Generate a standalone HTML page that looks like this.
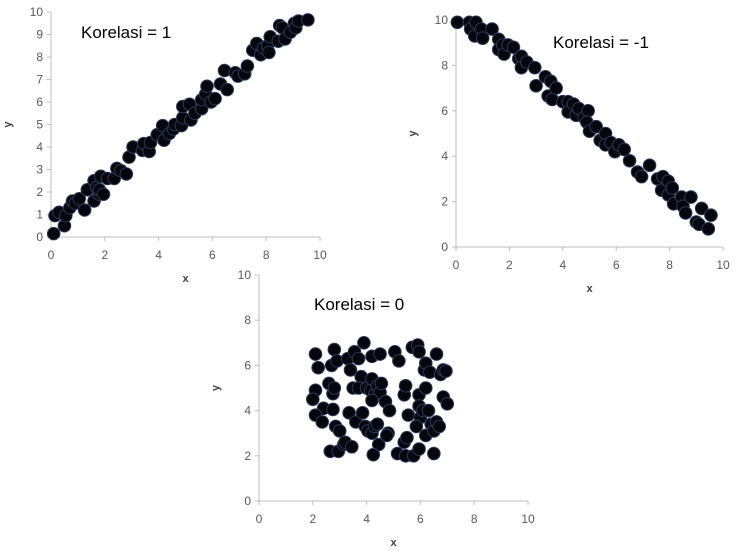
<!DOCTYPE html>
<html><head><meta charset="utf-8"><style>
body{margin:0;background:#fff;}
svg{display:block;font-family:"Liberation Sans",sans-serif;}
.tick{fill:#595959;font-size:12px;}
.ttl{fill:#000;font-size:17px;}
.ax{fill:#404040;font-size:11px;font-weight:bold;}
</style></head><body>
<svg id="chart" width="735" height="550" viewBox="0 0 735 550"></svg>
<script>
const xTicks=[0,2,4,6,8,10];
const yTicks1=[0,1,2,3,4,5,6,7,8,9,10];
const yTicks2=[0,2,4,6,8,10];
const pos1X=[0.1,0.15,0.3,0.5,0.55,0.7,0.8,0.9,1.05,1.25,1.35,1.6,1.6,1.7,1.8,1.8,1.85,1.95,2.1,2.35,2.45,2.6,2.8,2.9,3.05,3.4,3.45,3.65,3.7,3.95,4.15,4.2,4.4,4.55,4.6,4.85,4.9,4.9,5.15,5.2,5.35,5.6,5.6,5.75,5.8,5.95,6.1,6.3,6.45,6.55,6.85,6.95,7.2,7.3,7.5,7.65,7.8,7.9,8.05,8.1,8.15,8.45,8.5,8.6,8.7,8.9,9.05,9.1,9.2,9.55];
const pos1Y=[0.15,0.95,1.1,0.5,0.95,1.3,1.6,1.5,1.7,1.2,2.1,1.6,2.5,2.2,1.9,2.1,2.7,1.9,2.6,2.6,3.05,2.95,2.8,3.55,4.0,3.85,4.15,3.8,4.2,4.55,4.95,4.3,4.6,4.8,5.0,4.95,5.3,5.8,5.9,5.2,5.5,5.7,6.1,6.35,6.7,6.0,6.15,6.8,7.4,6.55,7.3,7.15,7.25,7.6,8.3,8.6,8.1,8.4,8.5,8.2,8.9,8.7,9.4,9.3,8.8,9.1,9.5,9.3,9.6,9.65];
const negX=[0.05,0.5,0.55,0.75,0.7,0.95,1.0,1.35,1.6,1.6,1.75,1.8,1.95,2.15,2.35,2.45,2.45,2.65,2.95,3.0,3.35,3.45,3.55,3.6,3.75,4.0,4.2,4.2,4.4,4.5,4.6,4.8,4.95,4.9,5.0,5.25,5.4,5.6,5.6,5.8,5.95,6.1,6.3,6.5,6.8,6.95,7.25,7.55,7.7,7.75,7.95,7.95,8.1,8.15,8.45,8.5,8.6,8.8,9.0,9.1,9.2,9.45,9.55];
const negY=[9.9,9.9,9.6,9.9,9.3,9.6,9.2,9.6,9.15,8.7,8.9,8.5,8.9,8.8,8.3,8.4,7.9,8.15,7.9,7.1,7.5,6.65,7.3,6.5,7.0,6.4,6.4,5.95,6.3,5.8,6.1,5.7,6.0,5.5,5.1,5.3,4.7,5.0,4.5,4.6,4.2,4.5,4.3,3.8,3.3,3.1,3.6,3.0,2.5,3.1,2.9,2.3,2.6,1.9,2.2,1.8,1.5,2.2,1.1,1.0,1.7,0.8,1.4];
const zeroX=[2.1,2.2,2.1,2.0,2.4,2.1,2.35,2.6,2.7,2.8,2.9,2.75,2.8,2.75,2.85,3.0,2.65,2.95,3.15,3.2,3.45,3.3,3.4,3.5,3.35,3.6,3.55,3.7,3.8,3.7,3.9,3.85,3.95,4.05,4.2,4.3,4.0,4.15,4.2,4.3,4.4,4.5,4.55,4.2,4.2,4.5,4.4,4.45,4.25,4.7,4.85,4.8,4.75,5.05,5.2,5.15,5.4,5.5,5.45,5.4,5.45,5.55,5.7,5.75,5.9,5.95,5.95,5.95,6.0,5.85,5.95,6.1,6.15,6.2,6.2,6.2,6.35,6.3,6.4,6.5,6.5,6.6,6.6,6.7,6.75,6.85,6.95,6.85,7.0];
const zeroY=[6.5,5.9,4.9,4.5,4.1,3.8,3.5,5.2,6.0,6.7,6.2,4.75,5.0,4.05,3.3,3.1,2.2,2.2,2.5,2.6,2.4,6.3,5.8,5.0,3.9,3.5,6.6,6.3,5.5,5.0,7.0,3.9,3.3,3.1,3.0,3.3,5.0,4.9,5.4,4.7,5.1,4.8,5.2,4.45,6.4,6.5,3.4,2.5,2.05,4.4,4.0,3.0,2.9,6.6,6.2,2.1,2.6,2.8,2.0,4.7,5.1,3.8,6.8,2.0,6.9,6.6,4.7,4.2,3.7,3.3,2.3,4.0,5.8,6.1,5.0,2.9,5.7,4.0,3.4,3.1,2.1,6.5,3.5,3.3,5.6,5.8,5.75,4.6,4.3];

const NS="http://www.w3.org/2000/svg";
const svg=document.getElementById('chart');
function mk(tag,attrs,parent){const e=document.createElementNS(NS,tag);for(const k in attrs)e.setAttribute(k,attrs[k]);(parent||svg).appendChild(e);return e;}

function drawChart(cfg){
  const g=mk('g',{});
  
  
  const sx=v=>cfg.x0+(cfg.x1-cfg.x0)*v/10;
  const sy=v=>cfg.y0-(cfg.y0-cfg.y1)*v/10;
  const yl=mk('line',{x1:cfg.x0,y1:cfg.y0,x2:cfg.x0,y2:cfg.y1,stroke:'#bfbfbf','stroke-width':1},g);
  
  
  const xl=mk('line',{x1:cfg.x0,y1:cfg.y0,x2:cfg.x1,y2:cfg.y0,stroke:'#bfbfbf','stroke-width':1},g);
  
  
  cfg.yt.forEach(v=>{
    mk('line',{x1:cfg.x0-4,x2:cfg.x0,y1:sy(v),y2:sy(v),stroke:'#bfbfbf'},g);
    const t=mk('text',{x:cfg.x0-8,y:sy(v)+4,'text-anchor':'end',class:'tick'},g);
    t.textContent=v;
    
    
  });
  xTicks.forEach(v=>{
    mk('line',{x1:sx(v),x2:sx(v),y1:cfg.y0,y2:cfg.y0+4,stroke:'#bfbfbf'},g);
    const t=mk('text',{x:sx(v),y:cfg.y0+22,'text-anchor':'middle',class:'tick'},g);
    t.textContent=v;
    
    
  });
  const xt=mk('text',{x:(cfg.x0+cfg.x1)/2,y:cfg.y0+45,'text-anchor':'middle',class:'ax'},g);
  xt.textContent='x';
  
  
  const ytx=cfg.x0-40, yty=(cfg.y0+cfg.y1)/2;
  const yt=mk('text',{x:ytx,y:yty,'text-anchor':'middle',class:'ax',transform:`rotate(-90 ${ytx} ${yty})`},g);
  yt.textContent='y';
  
  
  cfg.xs.forEach((v,i)=>{
    const c=mk('circle',{cx:sx(v),cy:sy(cfg.ys[i]),r:6.3,fill:'#05070d',stroke:'#2a3a5c','stroke-width':1},g);
    
    
  });
  const tt=mk('text',{x:cfg.tx,y:cfg.ty,class:'ttl'},g);
  tt.textContent=cfg.title;
  
  
}
drawChart({name:'positive-correlation-chart',x0:51,x1:320,y0:237,y1:12,yt:yTicks1,xs:pos1X,ys:pos1Y,title:'Korelasi = 1',tx:81,ty:38});
drawChart({name:'negative-correlation-chart',x0:456,x1:723,y0:247,y1:20,yt:yTicks2,xs:negX,ys:negY,title:'Korelasi = -1',tx:553,ty:48});
drawChart({name:'zero-correlation-chart',x0:259,x1:528,y0:501,y1:275,yt:yTicks2,xs:zeroX,ys:zeroY,title:'Korelasi = 0',tx:314,ty:310});
</script>
</body></html>
